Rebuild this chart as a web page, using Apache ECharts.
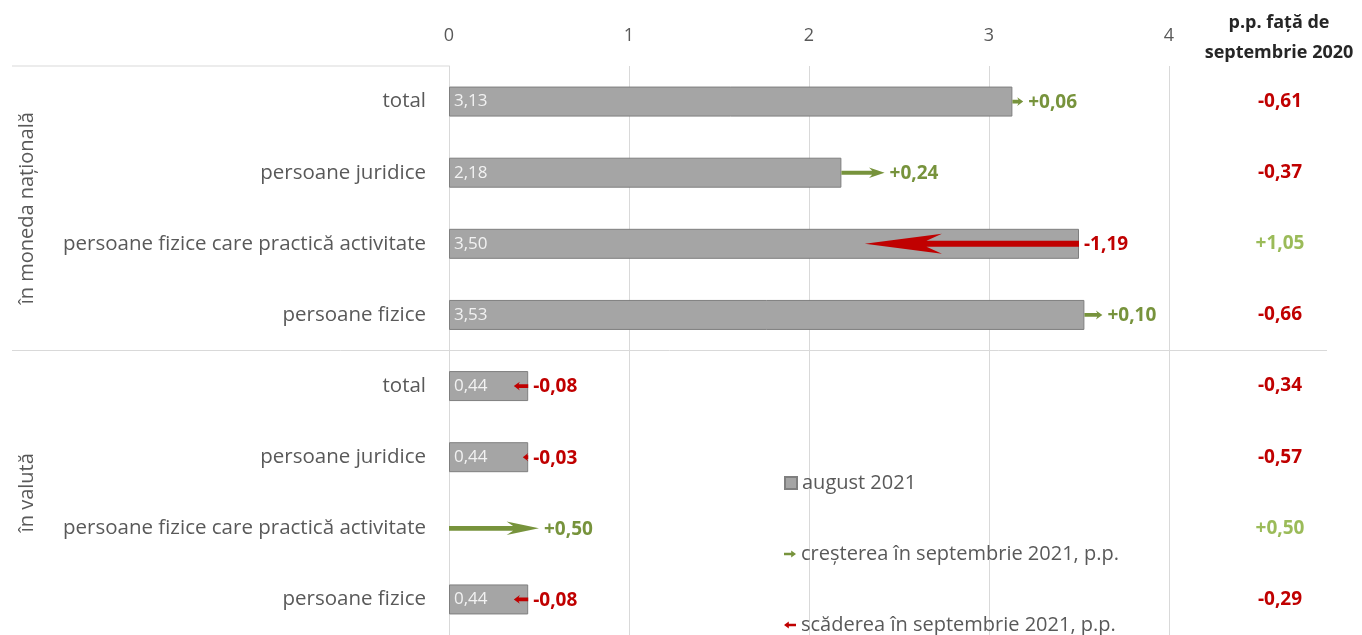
<!DOCTYPE html>
<html>
<head>
<meta charset="utf-8">
<script src="https://cdn.jsdelivr.net/npm/echarts@6/dist/echarts.min.js"></script>
<style>
  html, body { margin: 0; padding: 0; background: #fff; }
  #chart { width: 1362px; height: 635px; }
</style>
</head>
<body>
<div id="chart"></div>
<script>
// date
const categories = [
  'total', 'persoane juridice', 'persoane fizice care practică activitate', 'persoane fizice',
  'total', 'persoane juridice', 'persoane fizice care practică activitate', 'persoane fizice'
];
const groups = ['în moneda națională', 'în valută'];
const august2021 = [3.13, 2.18, 3.50, 3.53, 0.44, 0.44, 0, 0.44];
const changeSep2021 = [0.06, 0.24, -1.19, 0.10, -0.08, -0.03, 0.50, -0.08];
const vsSep2020 = [-0.61, -0.37, 1.05, -0.66, -0.34, -0.57, 0.50, -0.29];
const seriesNames = ['august 2021', 'creșterea în septembrie 2021, p.p.', 'scăderea în septembrie 2021, p.p.'];

const FONT = 'Open Sans';
const GREEN = '#77933c';
const GREEN_LIGHT = '#9bbb59';
const RED = '#c00000';
const GRAY_TXT = '#595959';

const gridTop = 66, gridBottom = 0, gridLeft = 449, gridRight = 193;
const rowH = (635 - gridTop - gridBottom) / categories.length;

function fmt(v, sign) {
  const s = Math.abs(v).toFixed(2).replace('.', ',');
  if (!sign) return s;
  return (v > 0 ? '+' : '-') + s;
}

const upData = [], downData = [];
changeSep2021.forEach((c, i) => {
  if (c > 0) upData.push([august2021[i], i, c]);
  else downData.push([august2021[i], i, c]);
});

function arrowItem(color) {
  return function (params, api) {
    const x0 = api.value(0), idx = api.value(1), d = api.value(2);
    const p0 = api.coord([x0, idx]);
    const p1 = api.coord([x0 + d, idx]);
    const y = p0[1];
    const dir = d >= 0 ? 1 : -1;
    const L = Math.abs(p1[0] - p0[0]);
    // sageti mici: cap proportional mai mare
    const headLen = Math.min(L, Math.max(6, L * 0.36));
    const half = Math.min(10, 4 + 0.03 * L);
    const s = Math.min(3, 1.8 + 0.006 * L);
    const back = p1[0] - dir * headLen;
    const neck = p1[0] - dir * headLen * 0.8;
    const pts = [
      [p0[0], y - s], [neck, y - s], [back, y - half], [p1[0], y],
      [back, y + half], [neck, y + s], [p0[0], y + s]
    ];
    return {
      type: 'group',
      children: [
        { type: 'polygon', shape: { points: pts }, style: { fill: color } },
        {
          type: 'text',
          style: {
            x: Math.max(p0[0], p1[0]) + 5, y: y + 1,
            text: fmt(d, true), fill: color,
            font: 'bold 19px "' + FONT + '"',
            verticalAlign: 'middle', align: 'left'
          }
        }
      ]
    };
  };
}

function legendAt(top, name, icon) {
  return {
    orient: 'vertical', left: 779, top: top,
    itemWidth: 12, itemHeight: 12,
    textStyle: { color: GRAY_TXT, fontSize: 20, fontFamily: FONT },
    data: [{ name: name, icon: icon }]
  };
}

const chart = echarts.init(document.getElementById('chart'));

const option = {
  backgroundColor: '#fff',
  animation: false,
  textStyle: { fontFamily: FONT },
  grid: { left: gridLeft, right: gridRight, top: gridTop, bottom: gridBottom },
  xAxis: {
    type: 'value', position: 'top', min: 0, max: 4, interval: 1,
    axisLine: { show: false }, axisTick: { show: false },
    axisLabel: { color: GRAY_TXT, fontSize: 18, margin: 21, fontFamily: FONT },
    splitLine: { lineStyle: { color: '#d9d9d9', width: 1 } }
  },
  yAxis: [
    {
      type: 'category', inverse: true, data: categories,
      axisLine: { show: true, lineStyle: { color: '#d9d9d9' } },
      axisTick: { show: false },
      axisLabel: { color: GRAY_TXT, fontSize: 20.5, margin: 23, fontFamily: FONT }
    },
    {
      type: 'category', inverse: true, position: 'right',
      data: vsSep2020.map(v => fmt(v, true)),
      axisLine: { show: false }, axisTick: { show: false },
      axisLabel: {
        margin: 111, align: 'center',
        formatter: (v) => (v.charAt(0) === '+' ? '{p|' + v + '}' : '{n|' + v + '}'),
        rich: {
          p: { color: GREEN_LIGHT, fontSize: 19, fontWeight: 'bold', fontFamily: FONT },
          n: { color: RED, fontSize: 19, fontWeight: 'bold', fontFamily: FONT }
        }
      }
    }
  ],
  legend: [
    legendAt(468, seriesNames[0], 'rect'),
    legendAt(539, seriesNames[1], 'path://M0,2 L6,2 L6,0 L10,3 L6,6 L6,4 L0,4 Z'),
    legendAt(610, seriesNames[2], 'path://M10,2 L4,2 L4,0 L0,3 L4,6 L4,4 L10,4 Z')
  ],
  graphic: [
    { type: 'line', shape: { x1: 12, y1: gridTop, x2: gridLeft, y2: gridTop }, style: { stroke: '#d9d9d9', lineWidth: 1 } },
    { type: 'line', shape: { x1: 12, y1: gridTop + rowH * 4, x2: 1327, y2: gridTop + rowH * 4 }, style: { stroke: '#d9d9d9', lineWidth: 1 } },
    {
      type: 'text', x: 27, y: gridTop + rowH * 2, rotation: Math.PI / 2,
      style: { text: groups[0], fill: GRAY_TXT, font: '20px "' + FONT + '"', align: 'center', verticalAlign: 'middle' }
    },
    {
      type: 'text', x: 27, y: gridTop + rowH * 6, rotation: Math.PI / 2,
      style: { text: groups[1], fill: GRAY_TXT, font: '20px "' + FONT + '"', align: 'center', verticalAlign: 'middle' }
    },
    {
      type: 'text', x: 1279, y: 23,
      style: { text: 'p.p. față de', fill: '#262626', font: 'bold 18px "' + FONT + '"', align: 'center', verticalAlign: 'middle' }
    },
    {
      type: 'text', x: 1279, y: 53,
      style: { text: 'septembrie 2020', fill: '#262626', font: 'bold 18px "' + FONT + '"', align: 'center', verticalAlign: 'middle' }
    }
  ],
  series: [
    {
      name: seriesNames[0], type: 'bar',
      data: august2021.map(v => (v === 0 ? '-' : v)), barWidth: 30,
      itemStyle: { color: '#a5a5a5', borderColor: '#7f7f7f', borderWidth: 1 },
      label: {
        show: true, position: 'insideLeft', distance: 5,
        color: '#f2f2f2', fontSize: 17, fontFamily: FONT,
        formatter: (p) => fmt(p.value, false)
      },
      z: 2
    },
    {
      name: seriesNames[1], type: 'custom', data: upData,
      encode: { x: 0, y: 1 }, itemStyle: { color: GREEN },
      renderItem: arrowItem(GREEN), z: 3
    },
    {
      name: seriesNames[2], type: 'custom', data: downData,
      encode: { x: 0, y: 1 }, itemStyle: { color: RED },
      renderItem: arrowItem(RED), z: 3
    }
  ]
};

chart.setOption(option);
</script>
</body>
</html>
